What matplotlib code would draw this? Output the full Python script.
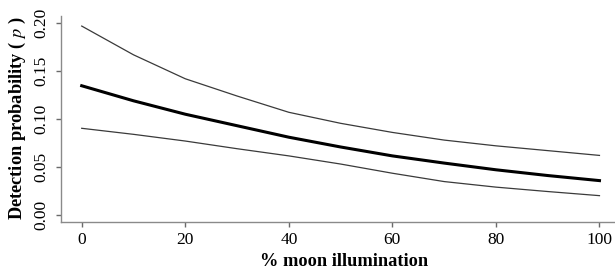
import matplotlib
matplotlib.use("Agg")
import matplotlib.pyplot as plt

moon = [0, 10, 20, 30, 40, 50, 60, 70, 80, 90, 100]
p_mean = [0.1347, 0.119, 0.105, 0.093, 0.081, 0.0708, 0.0615, 0.054, 0.047, 0.041, 0.0357]
p_upper = [0.197, 0.167, 0.142, 0.124, 0.107, 0.0955, 0.086, 0.078, 0.072, 0.067, 0.062]
p_lower = [0.0903, 0.084, 0.077, 0.069, 0.0615, 0.053, 0.0434, 0.0347, 0.0289, 0.0243, 0.020]
xticks = [0, 20, 40, 60, 80, 100]
yticks = [0.00, 0.05, 0.10, 0.15, 0.20]
ytick_labels = ["0.00", "0.05", "0.10", "0.15", "0.20"]

plt.rcParams['font.family'] = ['Liberation Serif', 'DejaVu Serif']
plt.rcParams['mathtext.fontset'] = 'stix'

fig = plt.figure(figsize=(6.15, 2.68), dpi=100)
ax = fig.add_axes([61/615, 46/268, 554/615, 206/268])

ax.plot(moon, p_upper, color='#3a3a3a', lw=0.9)
ax.plot(moon, p_lower, color='#3a3a3a', lw=0.9)
ax.plot(moon, p_mean, color='black', lw=2.2)

ax.set_xlim(-4, 103)
ax.set_ylim(-0.0075, 0.2075)
ax.set_xticks(xticks)
ax.set_yticks(yticks)
ax.set_yticklabels(ytick_labels, rotation=90, va='center')
for s in ['top', 'right']:
    ax.spines[s].set_visible(False)
for s in ['left', 'bottom']:
    ax.spines[s].set_color('#8a8a8a')
    ax.spines[s].set_linewidth(1.0)
ax.tick_params(axis='both', direction='out', length=3.5, width=1.0, color='#6a6a6a',
               labelsize=12.5, labelcolor='black')
ax.tick_params(axis='x', pad=4)
ax.tick_params(axis='y', pad=5)

fig.text(344/615, 1 - 261/268, "% moon illumination", ha='center', va='center',
         fontsize=13.2, fontweight='bold')
fig.text(17/615, 1 - 118/268, "Detection probability ( $p$ )", ha='center', va='center',
         rotation=90, fontsize=13.2, fontweight='bold')

fig.savefig("out.png", dpi=100)
